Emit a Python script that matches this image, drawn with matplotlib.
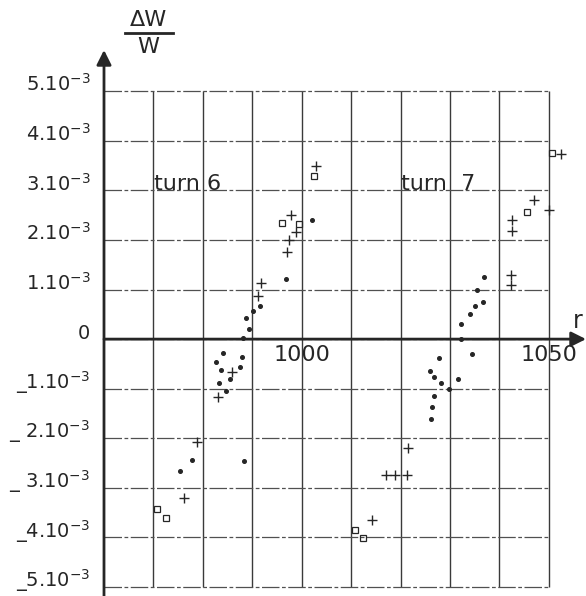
import matplotlib.pyplot as plt
from matplotlib.lines import Line2D
import numpy as np

# turn 6
t6_plus_r = [1002.9, 997.8, 998.8, 997.4, 997.0, 991.8, 991.1, 985.9, 983.1, 978.8, 976.2]
t6_plus_y = [3.50, 2.50, 2.16, 2.00, 1.76, 1.13, 0.87, -0.67, -1.17, -2.08, -3.21]
t6_sq_r = [1002.5, 996.0, 999.4, 970.7, 972.5]
t6_sq_y = [3.29, 2.34, 2.32, -3.43, -3.60]
t6_dot_r = [1002.1, 996.8, 991.6, 990.1, 988.7, 989.3, 988.1, 984.1, 982.7, 987.9,
            983.7, 987.5, 985.5, 983.3, 984.7, 977.8, 975.4, 988.3]
t6_dot_y = [2.40, 1.21, 0.67, 0.57, 0.42, 0.20, 0.02, -0.28, -0.46, -0.36,
            -0.63, -0.57, -0.81, -0.89, -1.05, -2.44, -2.65, -2.46]

# turn 7
t7_plus_r = [1021.5, 1017.0, 1018.9, 1021.3, 1014.2, 1052.4, 1047.0, 1050.0,
             1042.5, 1042.5, 1042.3, 1042.3]
t7_plus_y = [-2.20, -2.73, -2.73, -2.73, -3.64, 3.74, 2.81, 2.61, 2.40, 2.18, 1.29, 1.09]
t7_sq_r = [1010.8, 1012.4, 1050.6, 1045.6]
t7_sq_y = [-3.84, -4.02, 3.76, 2.57]
t7_dot_r = [1036.9, 1035.4, 1036.7, 1035.0, 1034.0, 1032.2, 1032.2, 1034.4, 1027.8,
            1025.9, 1026.7, 1031.6, 1028.2, 1029.8, 1026.7, 1026.3, 1026.1]
t7_dot_y = [1.25, 0.99, 0.75, 0.67, 0.51, 0.30, 0.00, -0.30, -0.38,
            -0.65, -0.77, -0.81, -0.89, -1.01, -1.15, -1.37, -1.62]

grid_r = np.arange(960, 1051, 10)
grid_y = np.arange(-5, 6, 1) * 1e-3
ylabels = ['_5.10$^{-3}$', '_4.10$^{-3}$', '_ 3.10$^{-3}$', '_ 2.10$^{-3}$',
           '_1.10$^{-3}$', '0', '1.10$^{-3}$', '2.10$^{-3}$', '3.10$^{-3}$',
           '4.10$^{-3}$', '5.10$^{-3}$']
xlab_pos = [1000, 1050]
xlab_txt = ['1000', '1050']

ink = '#262626'
plt.rcParams['font.family'] = ['DejaVu Sans']
plt.rcParams['mathtext.fontset'] = 'dejavusans'

fig = plt.figure(figsize=(5.86, 5.96), dpi=100)
ax = fig.add_axes([104/586, 0, 482/586, 546/596])
ax.set_xlim(960, 1057.5)
ax.set_ylim(-5.18e-3, 5.83e-3)
for s in ax.spines.values():
    s.set_visible(False)

# grid
ax.vlines(grid_r[1:], -5e-3, 5e-3, color='#3a3a3a', lw=1.0)
ax.hlines(grid_y, 960, 1050, color='#505050', lw=0.9, linestyles=[(0, (14, 2, 3, 2))])

# axes with arrows
ax.annotate('', xy=(960, 5.83e-3), xytext=(960, -5.18e-3),
            arrowprops=dict(arrowstyle='-|>', lw=2, color=ink, mutation_scale=22,
                            shrinkA=0, shrinkB=0), annotation_clip=False)
ax.annotate('', xy=(1057.5, 0), xytext=(960, 0),
            arrowprops=dict(arrowstyle='-|>', lw=2, color=ink, mutation_scale=22,
                            shrinkA=0, shrinkB=0), annotation_clip=False)

# data
ax.plot(np.array(t6_plus_r), np.array(t6_plus_y)*1e-3, '+', color=ink, ms=7, mew=1.0)
ax.plot(np.array(t7_plus_r), np.array(t7_plus_y)*1e-3, '+', color=ink, ms=7, mew=1.0)
ax.plot(np.array(t6_sq_r), np.array(t6_sq_y)*1e-3, 's', mfc='none', mec=ink, ms=5, mew=0.9)
ax.plot(np.array(t7_sq_r), np.array(t7_sq_y)*1e-3, 's', mfc='none', mec=ink, ms=5, mew=0.9)
ax.plot(np.array(t6_dot_r), np.array(t6_dot_y)*1e-3, 'o', color=ink, ms=2.6)
ax.plot(np.array(t7_dot_r), np.array(t7_dot_y)*1e-3, 'o', color=ink, ms=2.6)

# y tick labels, baseline sitting on the grid line
ax.set_yticks(grid_y, ylabels)
ax.set_xticks([])
ax.tick_params(axis='y', length=0, pad=10, labelsize=14, labelcolor=ink)
for lab in ax.get_yticklabels():
    lab.set_verticalalignment('baseline')

# x labels
for p, t in zip(xlab_pos, xlab_txt):
    ax.annotate(t, xy=(p, 0), xytext=(0, -4), textcoords='offset points',
                ha='center', va='top', fontsize=16, color=ink)
ax.annotate('r', xy=(1054.8, 0.0), xytext=(0, 8), textcoords='offset points',
            ha='left', va='baseline', fontsize=17, color=ink, annotation_clip=False)

ax.text(970.2, 3.0e-3, 'turn 6', fontsize=16, color=ink, ha='left', va='baseline')
ax.text(1020.0, 3.0e-3, 'turn  7', fontsize=16, color=ink, ha='left', va='baseline')

# y label dW/W
fig.text(148/586, 1-20/596, '\u0394W', fontsize=16, color=ink, ha='center', va='center')
fig.add_artist(Line2D([125/586, 173/586], [1-33/596, 1-33/596], color=ink, lw=2))
fig.text(148/586, 1-47/596, 'W', fontsize=16, color=ink, ha='center', va='center')

fig.savefig('out.png', dpi=100, facecolor='white')
